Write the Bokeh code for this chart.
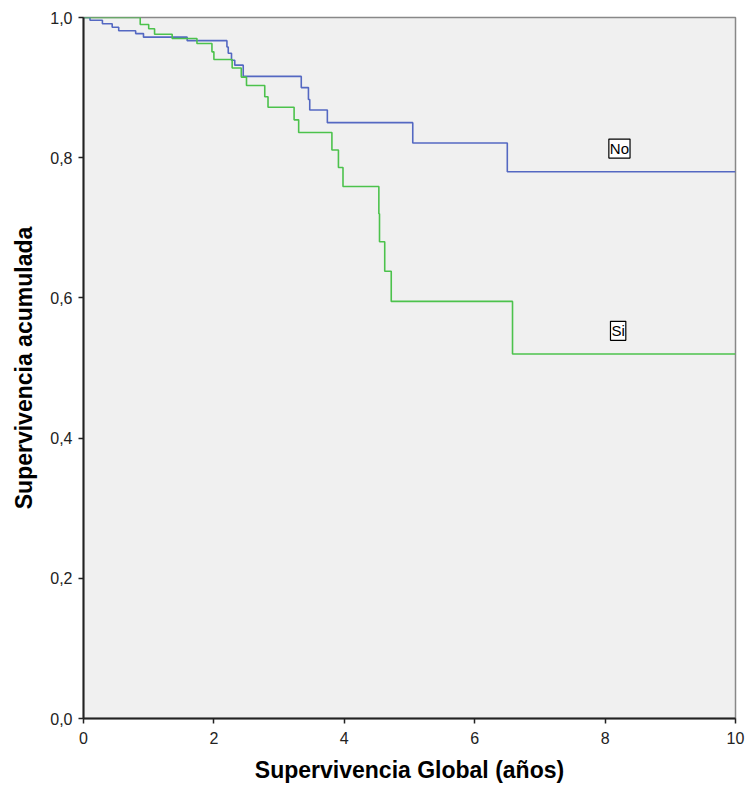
from bokeh.plotting import figure
from bokeh.models import Range1d, FixedTicker, Label
from bokeh.embed import file_html
from bokeh.resources import INLINE

# Kaplan-Meier step data: time (years) and cumulative survival after each event
no_t = [0, 0.10, 0.29, 0.44, 0.54, 0.80, 0.92, 1.59, 2.20, 2.22, 2.27, 2.32, 2.45,
        3.34, 3.45, 3.47, 3.74, 5.05, 6.50, 10]
no_s = [1.0, 0.996, 0.991, 0.986, 0.981, 0.977, 0.972, 0.967, 0.958, 0.949, 0.939,
        0.932, 0.916, 0.900, 0.883, 0.868, 0.850, 0.821, 0.780, 0.780]

si_t = [0, 0.87, 1.00, 1.09, 1.36, 1.74, 1.97, 2.00, 2.28, 2.42, 2.50, 2.78, 2.83,
        3.23, 3.30, 3.81, 3.91, 3.98, 4.53, 4.54, 4.62, 4.72, 6.58, 10]
si_s = [1.0, 0.990, 0.984, 0.976, 0.970, 0.963, 0.951, 0.940, 0.928, 0.915, 0.903,
        0.887, 0.872, 0.854, 0.836, 0.811, 0.786, 0.759, 0.720, 0.680, 0.638, 0.595,
        0.520, 0.520]

x_ticks = [0, 2, 4, 6, 8, 10]
y_ticks = [0.0, 0.2, 0.4, 0.6, 0.8, 1.0]
y_tick_labels = ["0,0", "0,2", "0,4", "0,6", "0,8", "1,0"]

series_labels = ["No", "Si"]
label_pos = [(8.22, 0.813), (8.20, 0.553)]

p = figure(width=746, height=795, output_backend="svg", toolbar_location=None,
           x_range=Range1d(0, 10), y_range=Range1d(0, 1),
           min_border_left=83, min_border_right=11, min_border_top=17,
           min_border_bottom=77)
p.background_fill_color = "#F0F0F0"
p.border_fill_color = "white"
p.outline_line_color = "#888888"
p.outline_line_width = 1.5
p.grid.visible = False

p.step(no_t, no_s, mode="after", line_color="#5468C2", line_width=1.6)
p.step(si_t, si_s, mode="after", line_color="#4CC24C", line_width=1.6)

for txt, (lx, ly) in zip(series_labels, label_pos):
    p.add_layout(Label(x=lx, y=ly, text=txt, text_font="Liberation Sans",
                       text_font_size="15px", text_align="center",
                       text_baseline="middle", text_color="black",
                       border_line_color="black", border_line_width=1.2,
                       background_fill_color="white", padding=1))

for ax in (p.xaxis[0], p.yaxis[0]):
    ax.axis_line_color = "#222222"
    ax.axis_line_width = 2
    ax.major_tick_line_color = "#222222"
    ax.major_tick_line_width = 1.5
    ax.major_tick_out = 5
    ax.major_tick_in = 0
    ax.minor_tick_line_color = None
    ax.major_label_text_font = "Liberation Sans"
    ax.major_label_text_font_size = "16px"
    ax.major_label_text_color = "#222222"
    ax.axis_label_text_font = "Liberation Sans"
    ax.axis_label_text_font_size = "23px"
    ax.axis_label_text_font_style = "bold"
    ax.axis_label_text_color = "black"

p.xaxis.ticker = FixedTicker(ticks=x_ticks)
p.yaxis.ticker = FixedTicker(ticks=y_ticks)
p.yaxis.major_label_overrides = {t: l for t, l in zip(y_ticks, y_tick_labels)}
p.xaxis.axis_label = "Supervivencia Global (años)"
p.yaxis.axis_label = "Supervivencia acumulada"
p.xaxis.major_label_standoff = 8
p.xaxis.axis_label_standoff = 10
p.yaxis.major_label_standoff = 6
p.yaxis.axis_label_standoff = 10

open("out.html", "w").write(file_html(p, INLINE))
